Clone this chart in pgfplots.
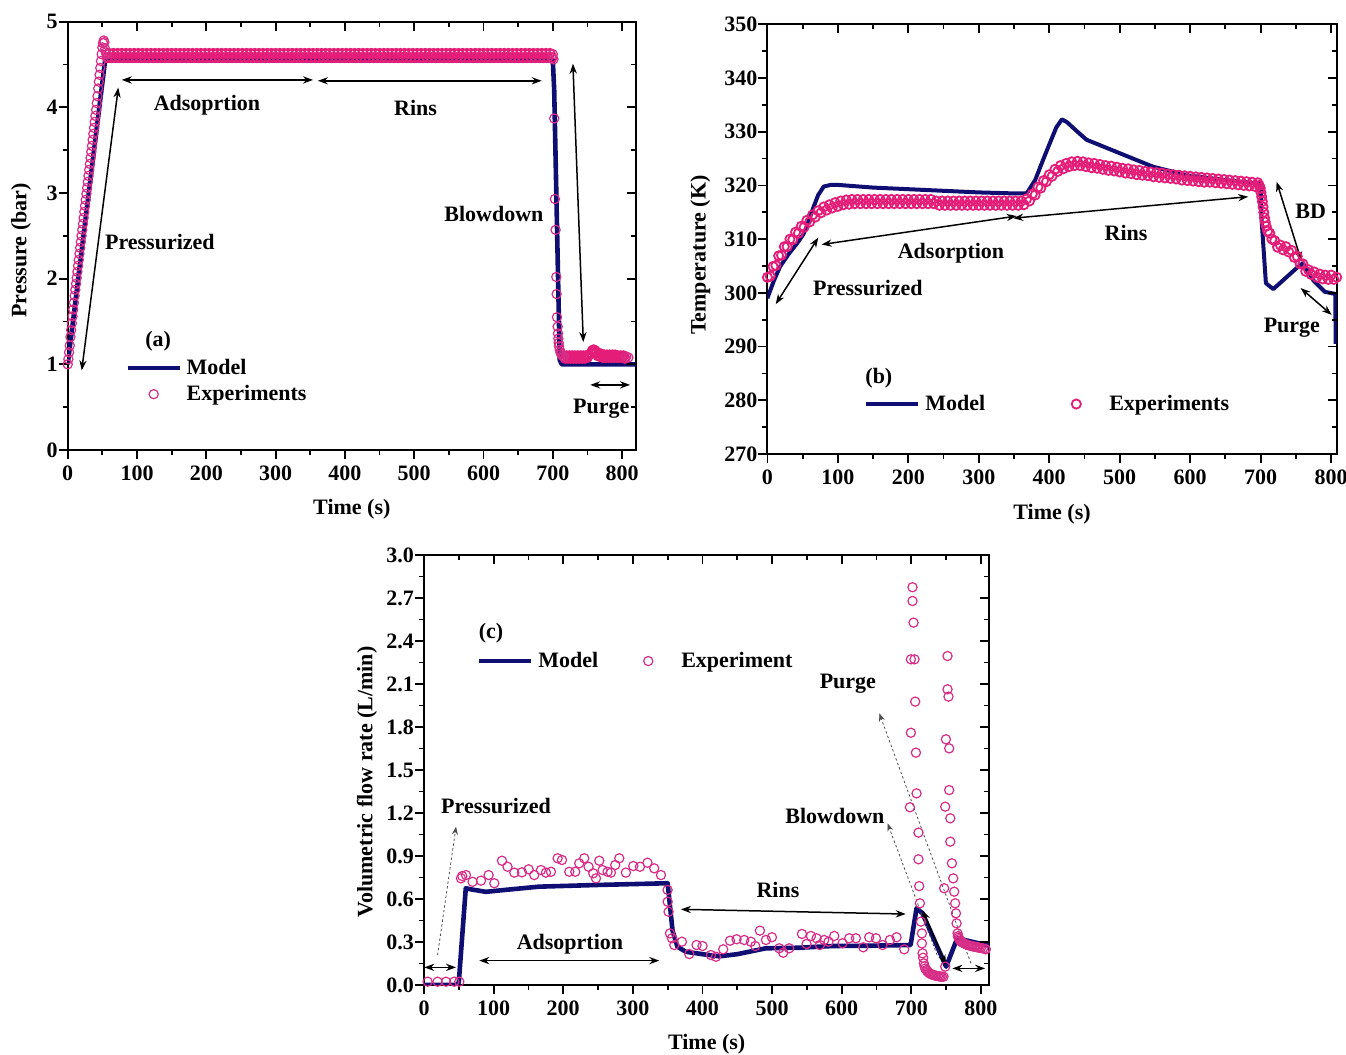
\documentclass[border=0pt]{standalone}
\usepackage{fontspec}
\setmainfont{Liberation Serif}
\usepackage{pgfplots}
\pgfplotsset{compat=1.18}
\usetikzlibrary{arrows.meta}
\definecolor{modelc}{RGB}{15,15,115}
\definecolor{expc}{RGB}{215,45,135}
\definecolor{expd}{RGB}{228,30,120}
\newcommand{\fs}{\bfseries\fontsize{11}{13}\selectfont}
\tikzset{
  darr/.style={{Stealth[length=5pt,width=3.6pt]}-{Stealth[length=5pt,width=3.6pt]}, line width=0.75pt},
  dotarr/.style={-{Stealth[length=4pt,width=3pt]}, line width=0.4pt, dash pattern=on 1.2pt off 1.2pt, black!70},
}
\pgfplotsset{
  panel/.style={
    scale only axis,
    axis line style={line width=1pt},
    every tick/.style={line width=0.9pt, black},
    major tick length=4.5pt, minor tick length=2.5pt,
    tick align=outside, xtick pos=left, ytick pos=left,
    ticklabel style={font=\fs},
    yticklabel style={xshift=3pt},
    label style={font=\fs},
    /pgf/number format/assume math mode=true,
    legend cell align=left,
    legend image code/.code={\pgfpathrectangle{\pgfpoint{0pt}{-3pt}}{\pgfpoint{26pt}{6pt}}\pgfusepath{use as bounding box}\draw[mark repeat=2,mark phase=2,##1] plot coordinates {(0pt,0pt)(13pt,0pt)(26pt,0pt)};},
    legend style={draw=none, fill=none, inner sep=0pt, font=\fs, nodes={inner sep=1pt}, row sep=2pt, anchor=west,
      /tikz/every odd column/.append style={column sep=2.5pt}},
  },
  mirror/.style={
    scale only axis, axis line style={draw=none},
    every tick/.style={line width=0.9pt, black},
    major tick length=4.5pt, minor tick length=2.5pt,
    tick align=inside, xtick pos=right, ytick pos=right,
    xticklabels={}, yticklabels={},
  },
  model/.style={modelc, line width=2.3pt, line join=round},
  exps/.style={only marks, mark=o, mark size=2.3pt, expc, mark options={line width=0.6pt, fill=white}},
  expsd/.style={only marks, mark=o, mark size=2.3pt, expd, mark options={line width=0.9pt, fill=none}},
}
\begin{document}
\begin{tikzpicture}
\path[use as bounding box] (0,0) rectangle (673pt,527.5pt);

% ---------------- Panel (a) ----------------
\begin{axis}[panel, at={(33.85pt,302.5pt)}, anchor=south west, width=284.15pt, height=214.15pt,
  xmin=0, xmax=820, ymin=0, ymax=5, xtick={0,100,...,800}, ytick={0,1,...,5},
  minor x tick num=1, minor y tick num=1,
  xlabel={Time (s)}, ylabel={Pressure (bar)},
  xlabel style={at={(axis description cs:0.5,-0.138)}, anchor=center},
  ylabel style={at={(axis description cs:-0.082,0.466)}, anchor=center},
  legend style={at={(axis cs:86,0.805)}},
]
\addplot[model] coordinates {(0,1.0) (54,4.55) (700,4.55) (702,4.2) (710,1.05) (713,1.0) (820,1.0)};
\addlegendentry{Model}
\addplot[expsd, forget plot] coordinates {
(57,4.58)(60,4.63)(63,4.58)(66,4.63)(69,4.58)(72,4.63)(75,4.58)(78,4.63)(81,4.58)(84,4.63)
(87,4.58)(90,4.63)(93,4.58)(96,4.63)(99,4.58)(102,4.63)(105,4.58)(108,4.63)(111,4.58)(114,4.63)
(117,4.58)(120,4.63)(123,4.58)(126,4.63)(129,4.58)(132,4.63)(135,4.58)(138,4.63)(141,4.58)(144,4.63)
(147,4.58)(150,4.63)(153,4.58)(156,4.63)(159,4.58)(162,4.63)(165,4.58)(168,4.63)(171,4.58)(174,4.63)
(177,4.58)(180,4.63)(183,4.58)(186,4.63)(189,4.58)(192,4.63)(195,4.58)(198,4.63)(201,4.58)(204,4.63)
(207,4.58)(210,4.63)(213,4.58)(216,4.63)(219,4.58)(222,4.63)(225,4.58)(228,4.63)(231,4.58)(234,4.63)
(237,4.58)(240,4.63)(243,4.58)(246,4.63)(249,4.58)(252,4.63)(255,4.58)(258,4.63)(261,4.58)(264,4.63)
(267,4.58)(270,4.63)(273,4.58)(276,4.63)(279,4.58)(282,4.63)(285,4.58)(288,4.63)(291,4.58)(294,4.63)
(297,4.58)(300,4.63)(303,4.58)(306,4.63)(309,4.58)(312,4.63)(315,4.58)(318,4.63)(321,4.58)(324,4.63)
(327,4.58)(330,4.63)(333,4.58)(336,4.63)(339,4.58)(342,4.63)(345,4.58)(348,4.63)(351,4.58)(354,4.63)
(357,4.58)(360,4.63)(363,4.58)(366,4.63)(369,4.58)(372,4.63)(375,4.58)(378,4.63)(381,4.58)(384,4.63)
(387,4.58)(390,4.63)(393,4.58)(396,4.63)(399,4.58)(402,4.63)(405,4.58)(408,4.63)(411,4.58)(414,4.63)
(417,4.58)(420,4.63)(423,4.58)(426,4.63)(429,4.58)(432,4.63)(435,4.58)(438,4.63)(441,4.58)(444,4.63)
(447,4.58)(450,4.63)(453,4.58)(456,4.63)(459,4.58)(462,4.63)(465,4.58)(468,4.63)(471,4.58)(474,4.63)
(477,4.58)(480,4.63)(483,4.58)(486,4.63)(489,4.58)(492,4.63)(495,4.58)(498,4.63)(501,4.58)(504,4.63)
(507,4.58)(510,4.63)(513,4.58)(516,4.63)(519,4.58)(522,4.63)(525,4.58)(528,4.63)(531,4.58)(534,4.63)
(537,4.58)(540,4.63)(543,4.58)(546,4.63)(549,4.58)(552,4.63)(555,4.58)(558,4.63)(561,4.58)(564,4.63)
(567,4.58)(570,4.63)(573,4.58)(576,4.63)(579,4.58)(582,4.63)(585,4.58)(588,4.63)(591,4.58)(594,4.63)
(597,4.58)(600,4.63)(603,4.58)(606,4.63)(609,4.58)(612,4.63)(615,4.58)(618,4.63)(621,4.58)(624,4.63)
(627,4.58)(630,4.63)(633,4.58)(636,4.63)(639,4.58)(642,4.63)(645,4.58)(648,4.63)(651,4.58)(654,4.63)
(657,4.58)(660,4.63)(663,4.58)(666,4.63)(669,4.58)(672,4.63)(675,4.58)(678,4.63)(681,4.58)(684,4.63)
(687,4.58)(690,4.63)(693,4.58)(696,4.63)(699,4.58)
(718,1.07)(720,1.10)(722,1.07)(724,1.10)(726,1.07)(728,1.10)(730,1.07)(732,1.10)(734,1.07)(736,1.10)
(738,1.07)(740,1.10)(742,1.07)(744,1.10)(746,1.07)(748,1.10)(750,1.08)(752,1.11)
(755,1.13)(757,1.16)(759,1.17)(761,1.16)(763,1.14)(765,1.10)(766,1.13)(768,1.09)(770,1.12)(772,1.08)
(774,1.11)(776,1.08)(778,1.11)(780,1.08)(782,1.11)(784,1.08)(786,1.11)(788,1.08)(790,1.11)(792,1.08)
(794,1.10)(796,1.08)(798,1.10)(800,1.08)(802,1.10)(804,1.07)};
\addplot[exps] coordinates {
(0,1.00)(1,1.06)(2,1.14)(3,1.22)(4,1.32)(5,1.40)(6,1.48)(7,1.56)(8,1.64)(9,1.72)
(10,1.80)(11,1.87)(12,1.94)(13,2.01)(14,2.08)(15,2.15)(16,2.22)(17,2.29)(18,2.36)(19,2.43)
(20,2.50)(21,2.57)(22,2.64)(23,2.71)(24,2.78)(25,2.85)(26,2.92)(27,2.99)(28,3.06)(29,3.13)
(30,3.20)(31,3.27)(32,3.34)(33,3.41)(34,3.48)(35,3.55)(36,3.62)(37,3.69)(38,3.76)(39,3.83)
(40,3.90)(41,3.97)(42,4.05)(43,4.13)(44,4.22)(45,4.30)(46,4.38)(47,4.46)(48,4.54)(49,4.62)
(50,4.70)(51,4.75)(52,4.78)(53,4.76)(54,4.68)(55,4.64)(56,4.62)
(700,4.62)(701,4.56)(702,3.87)(703,2.93)(704,2.57)(705,2.02)(705.5,1.82)(706,1.55)(707,1.44)(707.5,1.36)
(708,1.30)(708.5,1.25)(709,1.21)(710,1.17)(711,1.14)(712,1.12)(714,1.10)(716,1.09)
(806,1.09)(809,1.08)};
\addlegendentry{Experiments}
\draw[darr] (78,4.32) -- (354,4.32);
\draw[darr] (361,4.31) -- (684,4.31);
\node[font=\fs] at (201,4.03) {Adsoprtion};
\node[font=\fs] at (502,3.99) {Rins};
\node[font=\fs] at (133,2.43) {Pressurized};
\draw[darr] (20.2,0.93) -- (73,4.23);
\node[font=\fs] at (615,2.75) {Blowdown};
\draw[darr] (729,4.51) -- (744,1.26);
\node[font=\fs] at (770,0.48) {Purge};
\draw[darr] (754,0.76) -- (811.5,0.76);
\node[font=\fs] at (130.5,1.27) {(a)};
\end{axis}
\begin{axis}[mirror, at={(33.85pt,302.5pt)}, anchor=south west, width=284.15pt, height=214.15pt,
  xmin=0, xmax=820, ymin=0, ymax=5, xtick={0,100,...,800}, ytick={0,1,...,5},
  minor x tick num=1, minor y tick num=1]
\end{axis}

% ---------------- Panel (b) ----------------
\begin{axis}[panel, at={(383.7pt,300.5pt)}, anchor=south west, width=284.65pt, height=214.85pt,
  xmin=0, xmax=808, ymin=270, ymax=350, xtick={0,100,...,800}, ytick={270,280,...,350},
  minor x tick num=1, minor y tick num=1,
  xlabel={Time (s)}, ylabel={Temperature (K)},
  xlabel style={at={(axis description cs:0.5,-0.1396)}, anchor=center},
  ylabel style={at={(axis description cs:-0.118,0.463)}, anchor=center},
  legend columns=2,
  legend style={at={(axis cs:140,279.3)}, /tikz/every even column/.append style={column sep=31.5pt}},
]
\addplot[model, line width=2pt] coordinates {
(0,299.0)(9,302.2)(18,304.9)(30,307.2)(42,309.2)(51,310.9)(56,312.4)(65,315.8)(72,318.2)(80,319.8)
(90,320.1)(100,320.1)(150,319.6)(200,319.3)(250,319.0)(300,318.7)(354,318.5)(368,318.5)(380,321.0)
(395,326.0)(410,330.8)(418,332.3)(425,331.8)(440,330.0)(453,328.5)(470,327.6)(500,326.0)(547,323.5)
(595,321.9)(650,321.0)(694,320.4)(700,320.2)(701.4,313.6)(707.5,301.8)(718,300.7)(751,304.6)
(760,305.5)(775,302.3)(791,300.2)(806,299.8)(806.5,290.5)};
\addlegendentry{Model}
\addplot[expsd] coordinates {
(0,302.9)(4,303.1)(8,304.9)(12,305.1)(16,306.9)(20,307.0)(24,308.6)(28,308.6)(32,310.0)(36,309.9)
(40,311.3)(44,311.1)(48,312.4)(52,312.2)(56,313.5)(60,313.2)(64,314.5)(68,314.1)(72,315.3)(76,314.9)
(80,316.0)(84,315.4)(88,316.4)(92,315.8)(96,316.8)(100,316.1)(104,317.1)(108,316.4)(112,317.3)(116,316.5)
(120,317.4)(124,316.6)(128,317.4)(132,316.6)(136,317.4)(140,316.6)(144,317.4)(148,316.6)(152,317.4)(156,316.6)
(160,317.4)(164,316.6)(168,317.4)(172,316.6)(176,317.4)(180,316.6)(184,317.4)(188,316.6)(192,317.4)(196,316.6)
(200,317.4)(204,316.6)(208,317.4)(212,316.6)(216,317.4)(220,316.6)(224,317.4)(228,316.6)(232,317.4)(236,316.6)
(240,317.1)(244,316.3)(248,317.1)(252,316.3)(256,317.1)(260,316.3)(264,317.1)(268,316.3)(272,317.1)(276,316.3)
(280,317.1)(284,316.3)(288,317.1)(292,316.3)(296,317.1)(300,316.3)(304,317.1)(308,316.3)(312,317.1)(316,316.3)
(320,317.1)(324,316.3)(328,317.1)(332,316.3)(336,317.1)(340,316.3)(344,317.1)(348,316.3)(352,317.1)(356,316.3)
(360,317.1)(364,316.4)(368,317.5)(372,317.1)(376,318.4)(380,318.2)(384,319.7)(388,319.5)(392,320.9)(396,320.7)
(400,322.0)(404,321.7)(408,323.0)(412,322.6)(416,323.7)(420,323.1)(424,324.1)(428,323.5)(432,324.4)(436,323.7)
(440,324.5)(444,323.7)(448,324.4)(452,323.5)(456,324.2)(460,323.3)(464,324.1)(468,323.2)(472,323.9)(476,323.0)
(480,323.7)(484,322.8)(488,323.6)(492,322.7)(496,323.4)(500,322.5)(504,323.2)(508,322.3)(512,323.1)(516,322.2)
(520,322.9)(524,322.0)(528,322.8)(532,321.9)(536,322.6)(540,321.8)(544,322.5)(548,321.6)(552,322.4)(556,321.5)
(560,322.3)(564,321.4)(568,322.1)(572,321.3)(576,322.0)(580,321.2)(584,321.9)(588,321.0)(592,321.8)(596,320.9)
(600,321.7)(604,320.8)(608,321.6)(612,320.7)(616,321.5)(620,320.6)(624,321.4)(628,320.6)(632,321.3)(636,320.5)
(640,321.2)(644,320.4)(648,321.1)(652,320.3)(656,321.0)(660,320.2)(664,320.9)(668,320.1)(672,320.8)(676,320.0)
(680,320.7)(684,319.9)(688,320.6)(692,319.8)(696,320.5)(698,320.0)
(699.5,319.5)(700.5,318.7)(701.5,317.9)(702.5,317.0)(703.5,316.0)(704.5,315.0)(705.5,314.0)
(706.5,313.2)(708,312.4)(710,311.5)(713,311.1)(716,310.0)(720,309.7)(724,308.5)(728,308.9)(732,308.0)
(736,308.6)(740,307.6)(744,307.9)(748,306.6)(752,306.8)(756,305.4)(760,305.4)(764,304.0)(768,304.3)
(772,303.4)(776,303.9)(780,302.9)(784,303.5)(788,302.6)(792,303.3)(796,302.5)(800,303.3)(804,302.5)(808,302.9)};
\addlegendentry{Experiments}
\node[font=\fs] at (142.6,300.9) {Pressurized};
\draw[darr] (11.8,297.9) -- (72.3,310.3);
\node[font=\fs] at (260.6,307.4) {Adsorption};
\draw[darr] (77,309.0) -- (353.8,314.3);
\draw[darr] (349,313.9) -- (682.4,317.9);
\node[font=\fs] at (509,311.1) {Rins};
\node[font=\fs] at (771,315.1) {BD};
\draw[darr] (722.7,320.7) -- (758.2,305.8);
\node[font=\fs] at (744.4,293.5) {Purge};
\draw[darr] (756.8,300.9) -- (800.8,295.9);
\node[font=\fs] at (158.2,284.2) {(b)};
\end{axis}
\begin{axis}[mirror, at={(383.7pt,300.5pt)}, anchor=south west, width=284.65pt, height=214.85pt,
  xmin=0, xmax=808, ymin=270, ymax=350, xtick={0,100,...,800}, ytick={270,280,...,350},
  minor x tick num=1, minor y tick num=1]
\end{axis}

% ---------------- Panel (c) ----------------
\begin{axis}[panel, at={(212pt,35pt)}, anchor=south west, width=282.65pt, height=215pt,
  xmin=0, xmax=812, ymin=0, ymax=3, xtick={0,100,...,800},
  ytick={0,0.3,0.6,0.9,1.2,1.5,1.8,2.1,2.4,2.7,3.0},
  minor x tick num=1, minor y tick num=1,
  yticklabel style={/pgf/number format/.cd, fixed, fixed zerofill, precision=1},
  xlabel={Time (s)}, ylabel={Volumetric flow rate (L/min)},
  xlabel style={at={(axis description cs:0.5,-0.137)}, anchor=center},
  ylabel style={at={(axis description cs:-0.101,0.472)}, anchor=center},
  legend columns=2,
  legend style={at={(axis cs:79,2.26)}, /tikz/every even column/.append style={column sep=11pt}},
]
\addplot[model] coordinates {
(0,0)(48,0)(50,0.02)(60,0.675)(70,0.665)(89,0.65)(120,0.665)(165,0.686)(250,0.698)(309,0.705)
(350,0.71)(357,0.38)(364,0.267)(376,0.232)(400,0.215)(424,0.2)(450,0.215)(491,0.256)(539,0.26)
(587,0.272)(640,0.274)(699,0.279)(707.5,0.535)(716,0.5)(750,0.128)(766,0.326)(807,0.279)(812,0.275)};
\addlegendentry{Model}
\addplot[exps] coordinates {
(5.2,0.023)(19.5,0.023)(31.6,0.023)(43.5,0.023)(50.7,0.023)
(53.1,0.744)(55,0.76)(60.3,0.767)(69.8,0.72)(81.9,0.728)(92.8,0.767)(101,0.71)(112,0.867)(120,0.825)
(129.7,0.784)(140.7,0.786)(150.3,0.807)(158.4,0.767)(168,0.802)(175.2,0.784)(182.4,0.79)(191.9,0.884)
(198.2,0.872)(208.7,0.79)(217.3,0.79)(223,0.849)(230.2,0.884)(236.4,0.825)(243.1,0.779)(247,0.744)
(251.8,0.867)(256.5,0.802)(263.7,0.79)(268.5,0.784)(274.7,0.837)(280.5,0.884)(290,0.784)(300.6,0.83)
(310.2,0.825)(321,0.853)(330.7,0.814)(340.4,0.767)(349.9,0.663)(350,0.581)(351.3,0.511)(353.3,0.36)
(356.2,0.326)(359.5,0.279)(370.5,0.302)(381,0.216)(391.5,0.279)(400.1,0.272)(412.2,0.209)(419.4,0.197)
(429.8,0.249)(439.5,0.309)(449,0.319)(460,0.314)(469.6,0.302)(475.8,0.272)(482.5,0.379)(491.2,0.314)
(499.8,0.333)(510.3,0.256)(516,0.225)(524.6,0.256)(542.9,0.356)(549.5,0.286)(555.8,0.342)(563.9,0.326)
(568.7,0.279)(574.9,0.314)(581.1,0.302)(589.3,0.342)(601.2,0.291)(610.8,0.326)(620.4,0.326)(631,0.263)
(639.5,0.333)(649.2,0.326)(658.6,0.279)(669.3,0.314)(678.8,0.333)(689.8,0.249)
(698,1.24)(699.4,2.272)(699.4,1.76)(701.7,2.775)(701.7,2.679)(703.2,2.528)(704.6,2.272)(705.6,1.977)
(706.6,1.621)(707.5,1.337)(710.3,1.063)(710.3,0.877)(711.3,0.69)(712.3,0.57)(713.8,0.442)(715.2,0.36)
(715.2,0.29)(716.1,0.221)(717,0.19)(718,0.151)(719,0.13)(720,0.115)(721.8,0.105)(723,0.095)(724.5,0.088)
(726.5,0.081)(728,0.076)(730,0.072)(732,0.069)(734,0.066)(736,0.064)(738,0.062)(740,0.06)(742,0.059)
(744,0.058)(746.3,0.058)(748.7,0.128)
(747.2,0.675)(748.7,1.244)(749.7,1.714)(752,2.295)(752,2.063)(753.4,2.012)(754.4,1.651)(754.4,1.36)
(756,1.163)(756,1.0)(758.3,0.849)(760.2,0.744)(761.6,0.651)(763,0.57)(764.1,0.5)(765,0.43)(766.4,0.36)
(767,0.34)(768,0.33)(769,0.32)(770,0.31)(772,0.30)(774,0.295)(776,0.29)(778,0.285)(780,0.28)(782,0.278)
(784,0.275)(786,0.272)(788,0.27)(790,0.268)(792,0.266)(794,0.264)(796,0.262)(798,0.26)(800,0.258)
(803,0.255)(806,0.252)(807,0.249)};
\addlegendentry{Experiment}
\node[font=\fs] at (103.4,1.249) {Pressurized};
\draw[dotarr] (19.5,0.209) -- (46,1.105);
\draw[darr] (0.4,0.123) -- (46,0.123);
\node[font=\fs] at (209.7,0.286) {Adsoprtion};
\draw[darr] (79.4,0.17) -- (338,0.17);
\node[font=\fs] at (508.4,0.663) {Rins};
\draw[darr] (369,0.528) -- (692,0.495);
\node[font=\fs] at (608.9,2.1) {Purge};
\draw[dotarr] (785.6,0.151) -- (654,1.896);
\node[font=\fs] at (590.3,1.18) {Blowdown};
\draw[dotarr] (737,0.209) -- (665.8,1.128);
\draw[darr] (716,0.523) -- (749.7,0.14);
\draw[darr] (759,0.116) -- (806,0.116);
\node[font=\fs] at (96.2,2.456) {(c)};
\end{axis}
\begin{axis}[mirror, at={(212pt,35pt)}, anchor=south west, width=282.65pt, height=215pt,
  xmin=0, xmax=812, ymin=0, ymax=3, xtick={0,100,...,800},
  ytick={0,0.3,0.6,0.9,1.2,1.5,1.8,2.1,2.4,2.7,3.0},
  minor x tick num=1, minor y tick num=1]
\end{axis}
\end{tikzpicture}
\end{document}
